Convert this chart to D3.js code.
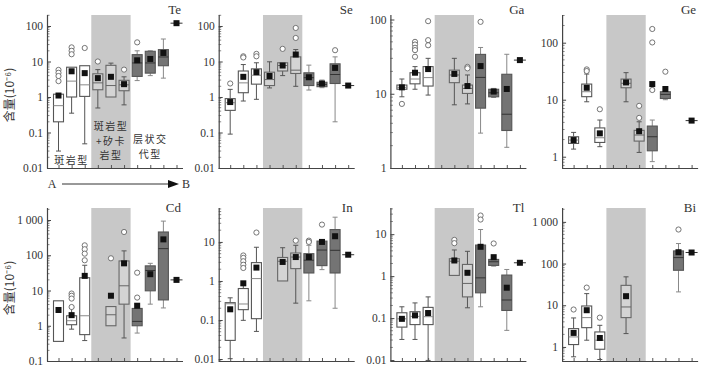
<!DOCTYPE html>
<html>
<head>
<meta charset="utf-8">
<script src="https://cdn.jsdelivr.net/npm/d3@7"></script>
<style>
  body { margin: 0; background: #fff; }
  svg text { font-family: "Liberation Serif", "DejaVu Serif", serif; fill: #333; }
  .cjk { font-family: "Noto Sans CJK SC", sans-serif !important; }
</style>
</head>
<body>
<svg id="chart" width="705" height="369"></svg>
<script>
// box rows: [low whisker, q1, median, q3, high whisker, mean, outliers]; null = no sample
const positions = [1, 2, 3, 4, 5, 6, 7, 8, 9, 10];

const te = [
  [0.03, 0.2, 0.57, 1.2, 1.2, 1.1, [5.8, 4.8, 3.9, 2.8]],
  [0.35, 1.0, 2.8, 6.9, 6.9, 5.3, [25, 20, 16]],
  [0.048, 1.04, 2.2, 7.6, 7.6, 4.7, [24]],
  [0.49, 1.6, 2.5, 4.5, 5.9, 3.4, [10]],
  [1.0, 1.0, 2.1, 7.8, 9.0, 3.7, []],
  [0.6, 1.5, 2.2, 2.95, 3.7, 2.3, [5.9]],
  [2.9, 3.8, 9.1, 15.6, 20, 10.8, [34.6]],
  [4.0, 4.7, 9.1, 19.4, 20, 11.8, []],
  [3.4, 7.6, 13.4, 21.6, 43, 17.4, []],
  [null, null, null, null, null, 120, []]
];
const se = [
  [0.09, 0.42, 0.69, 0.9, 1.64, 0.72, [2.4]],
  [0.77, 1.32, 2.5, 5.4, 8.2, 3.7, [14, 13]],
  [0.86, 2.3, 4.1, 6.2, 9.2, 5.0, [16.4, 14]],
  [1.8, 2.1, 3.1, 5.0, 9.8, 3.9, []],
  [4.0, 5.4, 7.7, 9.2, 9.2, 7.7, [22.7]],
  [2.0, 4.6, 5.7, 13.5, 21.7, 15.7, [88, 46]],
  [1.57, 2.1, 3.5, 4.8, 7.9, 3.6, []],
  [1.83, 1.95, 2.26, 2.6, 3.0, 2.4, []],
  [0.2, 2.4, 4.3, 8.6, 13.5, 6.6, [20.8]],
  [null, null, null, null, null, 2.1, []]
];
const ga = [
  [9.1, 11.5, 12.2, 13.1, 15.8, 12.2, [7.3]],
  [11.5, 13.6, 15.8, 19.2, 23.2, 19.2, [50, 46, 41.6, 38.7, 31.5]],
  [9.6, 12.7, 16.5, 23.2, 30, 21.5, [95, 52.7, 45]],
  null,
  [7.1, 14.1, 17.9, 20.8, 30, 18.5, []],
  [7.3, 10.1, 11.8, 13.1, 17.9, 12.7, [23, 22]],
  [2.95, 6.4, 16.6, 33.9, 42, 23.6, [93]],
  [8.9, 9.1, 10.3, 11.5, 11.8, 10.7, []],
  [1.9, 3.2, 5.3, 18.3, 34, 11.6, []],
  [null, null, null, null, null, 28.4, []]
];
const ge = [
  [1.36, 1.71, 1.96, 2.24, 2.67, 1.96, []],
  [9.2, 11.3, 13.8, 18.8, 28.2, 16.2, [34, 31.8]],
  [1.5, 1.78, 2.15, 3.2, 4.4, 2.57, [6.8]],
  null,
  [9.2, 16.2, 19.4, 23, 29.8, 20.1, []],
  [1.19, 1.88, 2.4, 2.9, 4.1, 2.8, [7.8, 4.8]],
  [0.82, 1.27, 2.24, 3.45, 4.4, 18.8, [174, 101, 14.8]],
  [10, 10.5, 12.4, 13.8, 15.2, 15.4, [31]],
  null,
  [null, null, null, null, null, 4.3, []]
];
const cd = [
  [null, 0.36, null, 5.1, null, 2.8, []],
  [0.8, 1.07, 1.39, 1.92, 3.3, 2.0, [8.2, 7.1, 5.9, 3.4]],
  [0.38, 0.56, 1.92, 23, 52, 26, [191, 148, 111, 72]],
  null,
  [null, 1.0, 2.05, 3.5, null, 7.1, [82]],
  [0.45, 4.1, 13.6, 69, 133, 59, [457]],
  [0.62, 1.0, 1.33, 3.1, 3.1, 3.7, [32, 6.3]],
  [4.1, 9.8, 37, 50, 59, 29, []],
  [3.2, 5.4, 154, 457, 930, 282, []],
  [null, null, null, null, null, 20, []]
];
const inn = [
  [0.0102, 0.03, 0.26, 0.278, 0.37, 0.188, []],
  [0.098, 0.184, 0.257, 0.64, 0.77, 0.87, [4.5, 3.9, 3.2, 2.6, 2.15]],
  [0.051, 0.108, 1.15, 2.95, 7.3, 2.2, [17.4]],
  null,
  [1.0, 1.0, 3.2, 4.0, 7.1, 3.07, []],
  [0.27, 2.07, 4.1, 5.2, 8.2, 4.1, [10.8]],
  [0.31, 1.6, 3.4, 5.0, 8.2, 4.1, [10.8, 10]],
  [1.95, 2.47, 6.2, 10.5, 10.5, 10, [27.8]],
  [0.2, 1.6, 6.1, 20.7, 43, 14, []],
  [null, null, null, null, null, 4.7, []]
];
const tl = [
  [0.031, 0.061, 0.096, 0.134, 0.186, 0.096, []],
  [0.031, 0.07, 0.11, 0.142, 0.23, 0.116, []],
  [0.0098, 0.07, 0.108, 0.18, 0.32, 0.132, []],
  null,
  [1.04, 1.04, 2.27, 2.6, 4.2, 2.36, [7.3, 6.1]],
  [0.176, 0.32, 0.67, 1.9, 3.9, 1.2, []],
  [0.186, 0.4, 0.91, 5.5, 12.9, 5.0, [27.8, 22.3]],
  [1.73, 1.8, 2.2, 2.5, 2.5, 2.83, [6.0]],
  [0.051, 0.152, 0.27, 1.06, 1.44, 0.53, []],
  [null, null, null, null, null, 2.08, []]
];
const bi = [
  [0.58, 1.14, 1.74, 2.75, 4.96, 2.17, [7.9]],
  [1.45, 2.9, 5.05, 9.6, 19, 7.6, [26.5]],
  [0.5, 0.88, 1.45, 2.29, 3.3, 1.64, [5.05]],
  null,
  [2.09, 5.05, 9.1, 30, 48, 16.5, []],
  null, null, null,
  [20.9, 69, 139, 201, 302, 187, [655]],
  [null, null, null, null, null, 184, []]
];

const elements = ["Te", "Se", "Ga", "Ge", "Cd", "In", "Tl", "Bi"];
const series = [te, se, ga, ge, cd, inn, tl, bi];
const domains = [[0.01, 204], [0.01, 204], [1, 115], [0.634, 306],
                 [0.1, 2190], [0.0089, 74], [0.0095, 42], [0.46, 2150]];
const tickSets = [
  [0.01, 0.1, 1, 10, 100], [0.01, 0.1, 1, 10, 100], [1, 10, 100], [1, 10, 100],
  [0.1, 1, 10, 100, 1000], [0.01, 0.1, 1, 10], [0.01, 0.1, 1, 10], [1, 10, 100, 1000]
];
const groupLabels = [["斑岩型"], ["斑岩型", "+矽卡", "岩型"], ["层状交", "代型"]];
const yTitle = "含量(10⁻⁶)";

const svg = d3.select("#chart");
const pw = 136, ph = 153;

function fmt(v) {
  if (v >= 1000) return "1 000";
  return String(v);
}

function drawPanel(k) {
  const col = k % 4, row = Math.floor(k / 4);
  const left = 47 + col * 171.7, top = 15 + row * 193;
  const g = svg.append("g").attr("transform", "translate(" + left + "," + top + ")");
  const x = d3.scaleLinear().domain([1, 10]).range([11.5, 129.5]);
  const y = d3.scaleLog().domain(domains[k]).range([ph, 0]);

  // shaded group
  g.append("rect")
    .attr("x", x(3.5)).attr("y", 0)
    .attr("width", x(6.5) - x(3.5)).attr("height", ph)
    .attr("fill", "#c8c8c8");

  // minor ticks
  const lo = Math.floor(Math.log10(domains[k][0])), hi = Math.ceil(Math.log10(domains[k][1]));
  const minors = [];
  for (let e = lo; e < hi; e++) {
    for (let m = 2; m <= 9; m++) {
      const v = m * Math.pow(10, e);
      if (v >= domains[k][0] && v <= domains[k][1]) minors.push(v);
    }
  }
  g.append("g").selectAll("line").data(minors).enter().append("line")
    .attr("x1", 0).attr("x2", 2.5)
    .attr("y1", d => y(d)).attr("y2", d => y(d))
    .attr("stroke", "#555").attr("stroke-width", 0.7);

  const yAx = g.append("g")
    .call(d3.axisLeft(y).tickValues(tickSets[k]).tickSize(-4).tickPadding(4).tickFormat(fmt));
  yAx.select(".domain").attr("stroke", "#444").attr("stroke-width", 1.2).attr("d", "M0.5,0V" + (ph + 0.5));
  yAx.selectAll(".tick line").attr("stroke", "#444");
  yAx.selectAll("text").style("font-size", "11.5px").attr("fill", "#333");

  // bottom axis
  const xAx = g.append("g").attr("transform", "translate(0," + ph + ")")
    .call(d3.axisBottom(x).tickValues(positions).tickSize(-3).tickFormat(""));
  xAx.select(".domain").attr("stroke", "#444").attr("stroke-width", 1.2).attr("d", "M0,0.5H" + pw);
  xAx.selectAll(".tick line").attr("stroke", "#555");

  const bw = 10;
  series[k].forEach((d, i) => {
    if (!d) return;
    const p = positions[i];
    const cx = x(p);
    const [wl, q1, med, q3, wh, mean, outs] = d;
    let fill = "#fff", stroke = "#555", wstroke = "#555", mstroke = "#888";
    if (p >= 4 && p <= 6) { fill = "#d4d4d4"; stroke = "#666"; wstroke = "#555"; mstroke = "#666"; }
    if (p >= 7 && p <= 9) { fill = "#747474"; stroke = "#555"; wstroke = "#888"; mstroke = "#333"; }
    const bx = g.append("g");
    if (q1 != null) {
      if (wh != null && wh > q3) {
        bx.append("line").attr("x1", cx).attr("x2", cx).attr("y1", y(q3)).attr("y2", y(wh)).attr("stroke", wstroke);
        bx.append("line").attr("x1", cx - 2.5).attr("x2", cx + 2.5).attr("y1", y(wh)).attr("y2", y(wh)).attr("stroke", wstroke);
      }
      if (wl != null && wl < q1) {
        bx.append("line").attr("x1", cx).attr("x2", cx).attr("y1", y(q1)).attr("y2", y(wl)).attr("stroke", wstroke);
        bx.append("line").attr("x1", cx - 2.5).attr("x2", cx + 2.5).attr("y1", y(wl)).attr("y2", y(wl)).attr("stroke", wstroke);
      }
      bx.append("rect").attr("x", cx - bw / 2).attr("y", y(q3))
        .attr("width", bw).attr("height", Math.max(1, y(q1) - y(q3)))
        .attr("fill", fill).attr("stroke", stroke).attr("stroke-width", 1.1);
      if (med != null) {
        bx.append("line").attr("x1", cx - bw / 2).attr("x2", cx + bw / 2)
          .attr("y1", y(med)).attr("y2", y(med)).attr("stroke", mstroke);
      }
    } else {
      // single sample: short horizontal line through the mean
      bx.append("line").attr("x1", cx - 6).attr("x2", cx + 6)
        .attr("y1", y(mean)).attr("y2", y(mean)).attr("stroke", "#333");
    }
    bx.selectAll("circle").data(outs).enter().append("circle")
      .attr("cx", cx).attr("cy", v => y(v)).attr("r", 2.6)
      .attr("fill", "#fff").attr("stroke", "#666").attr("stroke-width", 0.9);
    bx.append("rect").attr("x", cx - 3).attr("y", y(mean) - 3)
      .attr("width", 6).attr("height", 6).attr("fill", "#111");
  });

  g.append("text").attr("x", 134).attr("y", row === 0 ? -1 : 4)
    .attr("text-anchor", "end").style("font-size", "13px").attr("fill", "#333")
    .text(elements[k]);

  if (col === 0) {
    svg.append("text")
      .attr("class", "cjk")
      .attr("transform", "translate(14," + (top + 80) + ") rotate(-90)")
      .attr("text-anchor", "middle").style("font-size", "12px").attr("fill", "#555")
      .text(yTitle);
  }
  return { g: g, x: x, left: left, top: top };
}

const panels = elements.map((e, k) => drawPanel(k));

// group annotations in the Te panel, one text block per group
const p0 = panels[0];
function cjkBlock(lines, cx, y0, dy) {
  const t = p0.g.append("text").attr("class", "cjk")
    .attr("x", cx).attr("y", y0).attr("text-anchor", "middle")
    .style("font-size", "10px").style("letter-spacing", "1.5px")
    .attr("fill", "#444");
  t.selectAll("tspan").data(lines).enter().append("tspan")
    .attr("x", cx).attr("dy", (d, i) => i === 0 ? 0 : dy)
    .text(d => d);
}
cjkBlock(groupLabels[0], p0.x(2), 149, 14.5);
cjkBlock(groupLabels[1], p0.x(5), 115, 14.5);
cjkBlock(groupLabels[2], p0.x(8), 128, 14.5);

// A -> B arrow under the first panel
const ay = 184;
svg.append("text").attr("x", 52).attr("y", ay + 4).attr("text-anchor", "middle")
  .style("font-size", "12px").attr("fill", "#333").text("A");
svg.append("line").attr("x1", 62).attr("x2", 170).attr("y1", ay).attr("y2", ay)
  .attr("stroke", "#333").attr("stroke-width", 1);
svg.append("path").attr("d", "M168," + (ay - 4) + "L179," + ay + "L168," + (ay + 4) + "Z").attr("fill", "#111");
svg.append("text").attr("x", 186).attr("y", ay + 4).attr("text-anchor", "middle")
  .style("font-size", "12px").attr("fill", "#333").text("B");
</script>
</body>
</html>
